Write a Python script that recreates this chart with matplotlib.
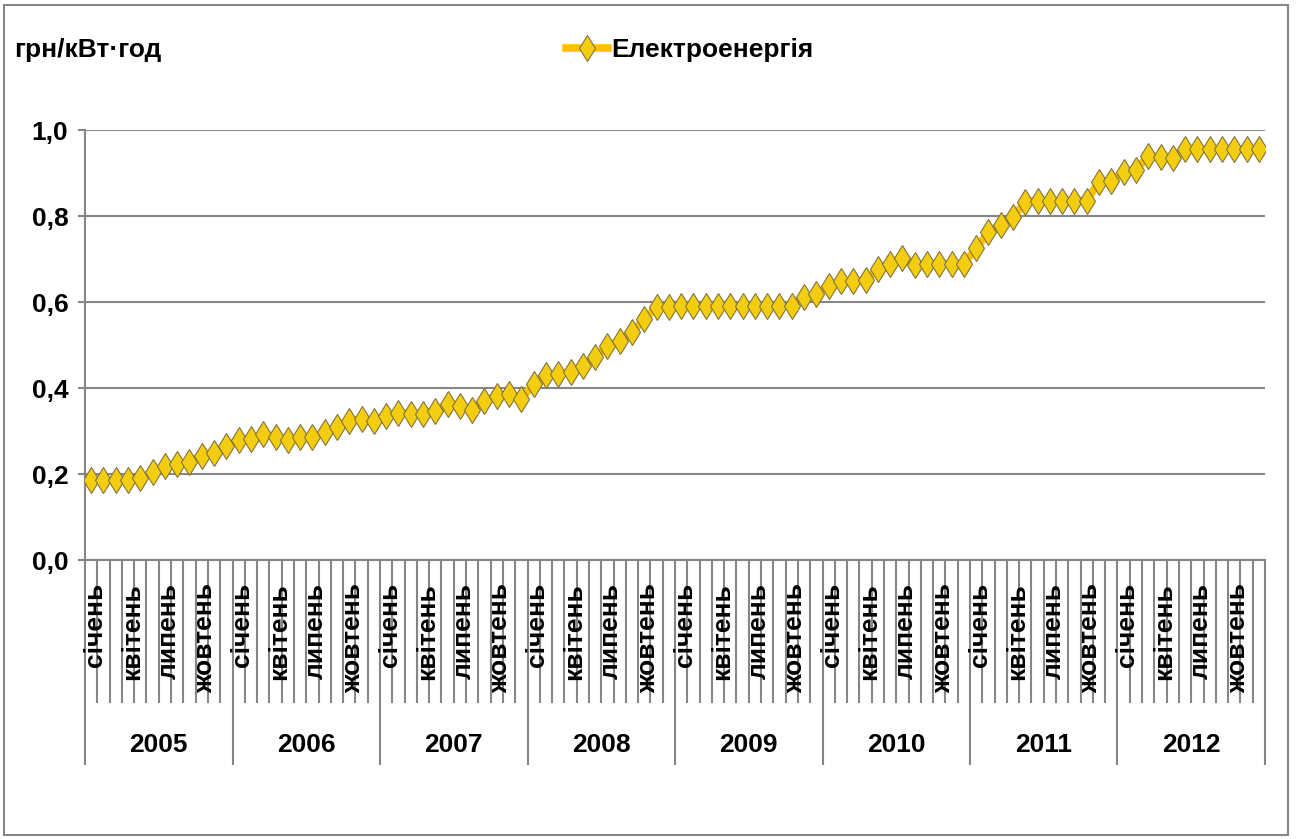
import numpy as np
import matplotlib
matplotlib.use("Agg")
import matplotlib.pyplot as plt
from matplotlib.patches import Rectangle

plt.rcParams['font.family'] = ['Liberation Sans', 'DejaVu Sans']

# monthly prices, грн/кВт·год
years = ['2005', '2006', '2007', '2008', '2009', '2010', '2011', '2012']
v2005 = [0.186, 0.186, 0.186, 0.185, 0.190, 0.204, 0.219, 0.223, 0.228, 0.243, 0.250, 0.266]
v2006 = [0.278, 0.281, 0.293, 0.287, 0.280, 0.287, 0.285, 0.297, 0.309, 0.324, 0.328, 0.324]
v2007 = [0.336, 0.343, 0.340, 0.340, 0.347, 0.363, 0.359, 0.350, 0.370, 0.382, 0.386, 0.374]
v2008 = [0.410, 0.430, 0.433, 0.437, 0.452, 0.471, 0.497, 0.510, 0.530, 0.560, 0.588, 0.588]
v2009 = [0.590, 0.590, 0.590, 0.590, 0.590, 0.590, 0.590, 0.590, 0.590, 0.590, 0.612, 0.619]
v2010 = [0.638, 0.648, 0.648, 0.650, 0.677, 0.689, 0.702, 0.686, 0.689, 0.689, 0.689, 0.689]
v2011 = [0.725, 0.762, 0.780, 0.797, 0.833, 0.836, 0.836, 0.836, 0.836, 0.836, 0.880, 0.882]
v2012 = [0.903, 0.907, 0.940, 0.937, 0.936, 0.955, 0.955, 0.955, 0.955, 0.955, 0.955, 0.955]
months = ['січень', '', '', 'квітень', '', '', 'липень', '', '', 'жовтень', '', '']
yticks = [0.0, 0.2, 0.4, 0.6, 0.8, 1.0]

values = v2005 + v2006 + v2007 + v2008 + v2009 + v2010 + v2011 + v2012
x = np.arange(len(values))
grey = '#868686'
fs = 19

W, H = 1298, 839
fig = plt.figure(figsize=(W / 100, H / 100), dpi=100)
fig.patches.append(Rectangle((4 / W, 4 / H), 1284 / W, 830 / H, transform=fig.transFigure,
                             fill=False, edgecolor=grey, linewidth=1.5))

ax = fig.add_axes([85 / W, 1 - 560 / H, 1180 / W, 430 / H])
ax.plot(x, values, color='#FFC000', linewidth=5.5, marker='d', markersize=13,
        markerfacecolor='#F4CC10', markeredgecolor='#80753e', markeredgewidth=0.8,
        label='Електроенергія', zorder=3)

ax.set_xlim(-0.5, len(values) - 0.5)
ax.set_ylim(0, 1.0)
ax.set_yticks(yticks)
ax.set_yticklabels([f'{t:.1f}'.replace('.', ',') for t in yticks],
                   fontsize=fs, fontweight='bold')
ax.tick_params(axis='y', length=5, color=grey, width=1.5, pad=7)
ax.set_xticks([])
ax.grid(axis='y', color=grey, linewidth=1.5)
ax.set_axisbelow(True)
for s in ['top', 'right']:
    ax.spines[s].set_visible(False)
for s in ['left', 'bottom']:
    ax.spines[s].set_color(grey)
    ax.spines[s].set_linewidth(1.5)

# category axis: month boundaries, year separators, labels
tr = ax.get_xaxis_transform()
for k in range(len(values) + 1):
    depth = -204 / 430 if k % 12 == 0 else -142 / 430
    ax.plot([k - 0.5, k - 0.5], [0, depth], color=grey, linewidth=1.5,
            transform=tr, clip_on=False)
for i in range(len(values)):
    lab = months[i % 12]
    if lab:
        ax.text(i + 0.3, -23 / 430, lab, transform=tr, rotation=90,
                ha='center', va='top', fontsize=fs, fontweight='bold')
for j, yr in enumerate(years):
    ax.text(j * 12 + 5.5, -185 / 430, yr, transform=tr, ha='center', va='center',
            fontsize=fs, fontweight='bold')

fig.text(14 / W, 1 - 50 / H, 'грн/кВт·год', ha='left', va='center',
         fontsize=fs, fontweight='bold')
ax.legend(loc='center left', bbox_to_anchor=(566 / W, 1 - 50 / H),
          bbox_transform=fig.transFigure, frameon=False, handlelength=1.6,
          handletextpad=0.1, borderaxespad=0, borderpad=0,
          prop={'size': fs, 'weight': 'bold'})

fig.savefig('out.png', dpi=100)
